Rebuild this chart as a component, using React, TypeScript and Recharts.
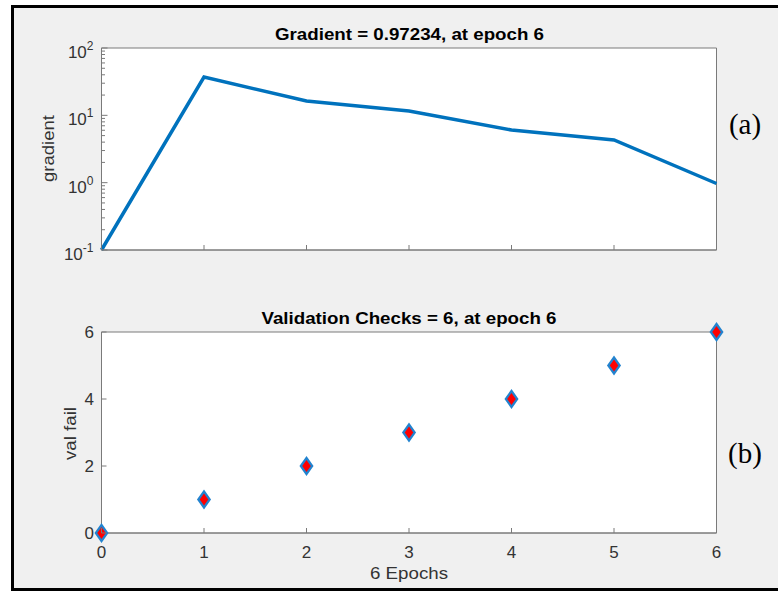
import {
  Line,
  LineChart,
  ReferenceArea,
  Scatter,
  ScatterChart,
  XAxis,
  YAxis,
} from "recharts";

// data
const epochs = [0, 1, 2, 3, 4, 5, 6];
const gradient = [0.1, 37, 16.3, 11.6, 6.05, 4.3, 0.97234];
const valFail = [0, 1, 2, 3, 4, 5, 6];

// ticks
const epochTicks = [0, 1, 2, 3, 4, 5, 6];
const gradMajorTicks = [0.1, 1, 10, 100];
const gradMinorTicks = [
  0.2, 0.3, 0.4, 0.5, 0.6, 0.7, 0.8, 0.9,
  2, 3, 4, 5, 6, 7, 8, 9,
  20, 30, 40, 50, 60, 70, 80, 90,
];
const gradExponents = ["-1", "0", "1", "2"];
const valTicks = [0, 2, 4, 6];

const gradData = epochs.map((e, i) => ({ epoch: e, gradient: gradient[i] }));
const valData = epochs.map((e, i) => ({ epoch: e, fail: valFail[i] }));
const allGradTicks = [...gradMajorTicks, ...gradMinorTicks].sort((a, b) => a - b);

const BLUE = "#0072BD";
const AXIS = "#7a7a7a";
const TEXT = "#333333";
const FONT = "'Liberation Sans', Arial, Helvetica, sans-serif";
const GAP = 7;
const W = 778;

type TickArgs = { x: number; y: number; payload: { value: number } };

function LogLeftTick({ x, y, payload }: TickArgs) {
  const v = payload.value;
  const idx = gradMajorTicks.indexOf(v);
  const ax = x + GAP;
  return (
    <g>
      <line x1={ax} y1={y} x2={ax + (idx >= 0 ? 6 : 3.5)} y2={y} stroke={AXIS} />
      {idx >= 0 && (
        <text x={x - 1} y={y + 10} textAnchor="end" fill={TEXT} fontSize={17} fontFamily={FONT}>
          10
          <tspan dy={-8} fontSize={12}>
            {gradExponents[idx]}
          </tspan>
        </text>
      )}
    </g>
  );
}

function LogRightTick({ x, y, payload }: TickArgs) {
  const major = gradMajorTicks.includes(payload.value);
  return <line x1={x} y1={y} x2={x - (major ? 6 : 3.5)} y2={y} stroke={AXIS} />;
}

function LinLeftTick({ x, y, payload }: TickArgs) {
  const ax = x + GAP;
  return (
    <g>
      <line x1={ax} y1={y} x2={ax + 5} y2={y} stroke={AXIS} />
      <text x={x - 0.5} y={y + 6} textAnchor="end" fill={TEXT} fontSize={17} fontFamily={FONT}>
        {payload.value}
      </text>
    </g>
  );
}

function RightTick({ x, y }: TickArgs) {
  return <line x1={x} y1={y} x2={x - 5} y2={y} stroke={AXIS} />;
}

function TopTick({ x, y }: TickArgs) {
  return <line x1={x} y1={y} x2={x} y2={y + 5} stroke={AXIS} />;
}

function BottomTickBare({ x, y }: TickArgs) {
  return <line x1={x} y1={y} x2={x} y2={y - 5} stroke={AXIS} />;
}

function BottomTickLabel({ x, y, payload }: TickArgs) {
  return (
    <g>
      <line x1={x} y1={y} x2={x} y2={y - 5} stroke={AXIS} />
      <text x={x} y={y + 25} textAnchor="middle" fill={TEXT} fontSize={17} fontFamily={FONT}>
        {payload.value}
      </text>
    </g>
  );
}

function Diamond(props: { cx?: number; cy?: number }) {
  const { cx = 0, cy = 0 } = props;
  const pts = `${cx},${cy - 8} ${cx + 5.7},${cy} ${cx},${cy + 8} ${cx - 5.7},${cy}`;
  return <polygon points={pts} fill="#ff0000" stroke="#2283cf" strokeWidth={2.2} />;
}

const axisCommon = {
  axisLine: { stroke: AXIS },
  tickLine: false,
  tickSize: 0,
  interval: 0 as const,
};

function GradientPlot() {
  return (
    <LineChart
      width={W}
      height={300}
      data={gradData}
      margin={{ top: 48, right: 61.5, left: 0, bottom: 20 }}
    >
      <ReferenceArea
        x1={0}
        x2={6}
        y1={0.1}
        y2={100}
        fill="#ffffff"
        fillOpacity={1}
        stroke={AXIS}
        strokeWidth={1}
      />
      <XAxis
        dataKey="epoch"
        type="number"
        domain={[0, 6]}
        ticks={epochTicks}
        height={30}
        tickMargin={0}
        tick={BottomTickBare}
        {...axisCommon}
      />
      <XAxis
        xAxisId="top"
        orientation="top"
        dataKey="epoch"
        type="number"
        domain={[0, 6]}
        ticks={epochTicks}
        height={0}
        tickMargin={0}
        tick={TopTick}
        {...axisCommon}
      />
      <YAxis
        scale="log"
        type="number"
        domain={[0.1, 100]}
        ticks={allGradTicks}
        width={101.5}
        tickMargin={GAP}
        tick={LogLeftTick}
        {...axisCommon}
      />
      <YAxis
        yAxisId="right"
        orientation="right"
        scale="log"
        type="number"
        domain={[0.1, 100]}
        ticks={allGradTicks}
        width={0}
        tickMargin={0}
        tick={LogRightTick}
        {...axisCommon}
      />
      <Line
        type="linear"
        dataKey="gradient"
        stroke={BLUE}
        strokeWidth={3.5}
        dot={false}
        isAnimationActive={false}
      />
    </LineChart>
  );
}

function ValidationPlot() {
  return (
    <ScatterChart
      width={W}
      height={293}
      margin={{ top: 32, right: 61.5, left: 0, bottom: 30 }}
    >
      <ReferenceArea
        x1={0}
        x2={6}
        y1={0}
        y2={6}
        fill="#ffffff"
        fillOpacity={1}
        stroke={AXIS}
        strokeWidth={1}
      />
      <XAxis
        dataKey="epoch"
        type="number"
        domain={[0, 6]}
        ticks={epochTicks}
        height={30}
        tickMargin={0}
        tick={BottomTickLabel}
        {...axisCommon}
      />
      <XAxis
        xAxisId="top"
        orientation="top"
        dataKey="epoch"
        type="number"
        domain={[0, 6]}
        ticks={epochTicks}
        height={0}
        tickMargin={0}
        tick={TopTick}
        {...axisCommon}
      />
      <YAxis
        dataKey="fail"
        type="number"
        domain={[0, 6]}
        ticks={valTicks}
        width={101.5}
        tickMargin={GAP}
        tick={LinLeftTick}
        {...axisCommon}
      />
      <YAxis
        yAxisId="right"
        orientation="right"
        dataKey="fail"
        type="number"
        domain={[0, 6]}
        ticks={valTicks}
        width={0}
        tickMargin={0}
        tick={RightTick}
        {...axisCommon}
      />
      <Scatter data={valData} shape={Diamond} isAnimationActive={false} />
    </ScatterChart>
  );
}

export default function App() {
  return (
    <div
      style={{
        position: "absolute",
        left: 0,
        top: 0,
        width: W,
        height: 593,
        overflow: "hidden",
        background: "#ffffff",
      }}
    >
      <div
        style={{
          position: "absolute",
          left: 11,
          top: 5,
          width: W + 10,
          height: 580,
          border: "3px solid #000",
          background: "#f0f0f0",
        }}
      />
      <div style={{ position: "absolute", left: 0, top: 0 }}>
        <GradientPlot />
      </div>
      <div style={{ position: "absolute", left: 0, top: 300 }}>
        <ValidationPlot />
      </div>
      <svg
        width={W}
        height={593}
        style={{ position: "absolute", left: 0, top: 0, pointerEvents: "none" }}
      >
        <g fontFamily={FONT} fill="#000">
          <text x={409.5} y={40} textAnchor="middle" fontSize={17} fontWeight="bold" textLength={269} lengthAdjust="spacingAndGlyphs">
            Gradient = 0.97234, at epoch 6
          </text>
          <text x={409} y={324} textAnchor="middle" fontSize={17} fontWeight="bold" textLength={295} lengthAdjust="spacingAndGlyphs">
            Validation Checks = 6, at epoch 6
          </text>
        </g>
        <g fontFamily={FONT} fill={TEXT} fontSize={17}>
          <text x={409} y={579} textAnchor="middle" textLength={78} lengthAdjust="spacingAndGlyphs">
            6 Epochs
          </text>
          <text x={54} y={148.5} textAnchor="middle" transform="rotate(-90 54 148.5)" textLength={67} lengthAdjust="spacingAndGlyphs">
            gradient
          </text>
          <text x={76} y={433.5} textAnchor="middle" transform="rotate(-90 76 433.5)" textLength={53} lengthAdjust="spacingAndGlyphs">
            val fail
          </text>
        </g>
        <g fontFamily="'Liberation Serif', 'Times New Roman', serif" fill="#000" fontSize={29}>
          <text x={745} y={134} textAnchor="middle">(a)</text>
          <text x={745} y={463} textAnchor="middle">(b)</text>
        </g>
      </svg>
    </div>
  );
}
